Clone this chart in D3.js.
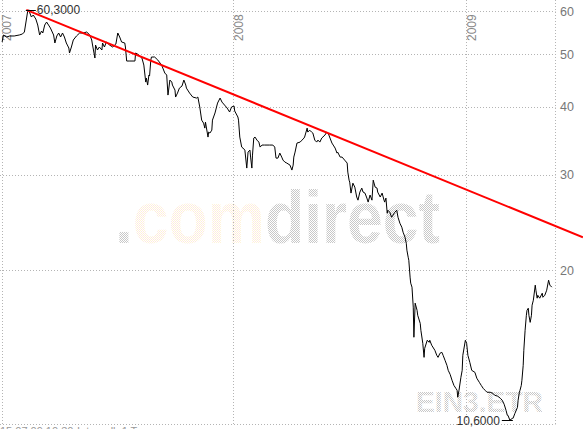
<!DOCTYPE html>
<html><head><meta charset="utf-8">
<script src="https://cdn.jsdelivr.net/npm/d3@7"></script>
<style>html,body{margin:0;padding:0;background:#fff;overflow:hidden}svg{display:block}</style>
</head><body><svg id="c" width="583" height="429"></svg>
<script>
const dates=["2007-01-02","2007-01-04","2007-01-09","2007-01-14","2007-01-21","2007-01-29","2007-02-03","2007-02-06","2007-02-09","2007-02-11",
"2007-02-13","2007-02-14","2007-02-17","2007-02-20","2007-02-24","2007-02-27","2007-03-02","2007-03-05","2007-03-07","2007-03-10",
"2007-03-13","2007-03-16","2007-03-19","2007-03-24","2007-03-26","2007-03-29","2007-04-01","2007-04-04","2007-04-07","2007-04-10",
"2007-04-13","2007-04-17","2007-04-18","2007-04-21","2007-04-24","2007-04-29","2007-05-04","2007-05-10","2007-05-15","2007-05-20",
"2007-05-23","2007-05-24","2007-05-28","2007-05-29","2007-06-01","2007-06-04","2007-06-08","2007-06-09","2007-06-12","2007-06-15",
"2007-06-20","2007-06-25","2007-06-30","2007-07-03","2007-07-06","2007-07-09","2007-07-14","2007-07-15","2007-07-17","2007-07-22",
"2007-07-30","2007-07-31","2007-08-03","2007-08-10","2007-08-13","2007-08-16","2007-08-17","2007-08-19","2007-08-21","2007-08-22",
"2007-08-24","2007-08-25","2007-08-30","2007-09-04","2007-09-10","2007-09-15","2007-09-18","2007-09-20","2007-09-21","2007-09-23",
"2007-09-26","2007-09-27","2007-10-01","2007-10-02","2007-10-05","2007-10-08","2007-10-12","2007-10-15","2007-10-18","2007-10-19",
"2007-10-24","2007-10-29","2007-11-04","2007-11-06","2007-11-09","2007-11-12","2007-11-15","2007-11-17","2007-11-18","2007-11-22",
"2007-11-23","2007-11-25","2007-11-28","2007-11-29","2007-12-03","2007-12-07","2007-12-11","2007-12-14","2007-12-18","2007-12-22",
"2007-12-26","2007-12-29","2008-01-02","2008-01-03","2008-01-08","2008-01-09","2008-01-11","2008-01-14","2008-01-16","2008-01-19",
"2008-01-22","2008-01-24","2008-01-27","2008-01-28","2008-01-30","2008-01-31","2008-02-02","2008-02-04","2008-02-07","2008-02-10",
"2008-02-12","2008-02-15","2008-02-19","2008-02-27","2008-03-03","2008-03-06","2008-03-08","2008-03-11","2008-03-14","2008-03-17",
"2008-03-19","2008-03-22","2008-03-25","2008-03-30","2008-04-02","2008-04-04","2008-04-05","2008-04-07","2008-04-10","2008-04-15",
"2008-04-18","2008-04-21","2008-04-22","2008-04-26","2008-04-27","2008-04-30","2008-05-03","2008-05-05","2008-05-08","2008-05-11",
"2008-05-13","2008-05-16","2008-05-19","2008-05-24","2008-05-27","2008-05-29","2008-06-01","2008-06-04","2008-06-06","2008-06-09",
"2008-06-12","2008-06-13","2008-06-17","2008-06-20","2008-06-24","2008-06-28","2008-06-29","2008-07-01","2008-07-02","2008-07-04",
"2008-07-07","2008-07-10","2008-07-13","2008-07-15","2008-07-18","2008-07-21","2008-07-23","2008-07-26","2008-07-29","2008-07-31",
"2008-08-03","2008-08-06","2008-08-08","2008-08-11","2008-08-14","2008-08-15","2008-08-19","2008-08-22","2008-08-25","2008-08-26",
"2008-08-28","2008-08-30","2008-08-31","2008-09-03","2008-09-06","2008-09-08","2008-09-11","2008-09-14","2008-09-16","2008-09-19",
"2008-09-22","2008-09-24","2008-09-27","2008-09-29","2008-09-30","2008-10-02","2008-10-03","2008-10-05","2008-10-06","2008-10-08",
"2008-10-10","2008-10-11","2008-10-13","2008-10-16","2008-10-17","2008-10-21","2008-10-22","2008-10-25","2008-10-27","2008-10-28",
"2008-11-01","2008-11-04","2008-11-05","2008-11-08","2008-11-13","2008-11-16","2008-11-18","2008-11-21","2008-11-24","2008-11-26",
"2008-11-29","2008-12-02","2008-12-04","2008-12-07","2008-12-10","2008-12-13","2008-12-16","2008-12-18","2008-12-19","2008-12-21",
"2008-12-24","2008-12-26","2008-12-27","2008-12-31","2009-01-02","2009-01-04","2009-01-07","2009-01-10","2009-01-15","2009-01-18",
"2009-01-22","2009-01-25","2009-01-28","2009-01-31","2009-02-03","2009-02-08","2009-02-12","2009-02-15","2009-02-20","2009-02-24",
"2009-02-27","2009-03-02","2009-03-05","2009-03-07","2009-03-08","2009-03-11","2009-03-15","2009-03-16","2009-03-19","2009-03-23",
"2009-03-24","2009-03-26","2009-03-27","2009-03-29","2009-03-30","2009-04-01","2009-04-02","2009-04-04","2009-04-06","2009-04-07",
"2009-04-09","2009-04-10","2009-04-12","2009-04-14","2009-04-15","2009-04-17","2009-04-20","2009-04-21","2009-04-23","2009-04-24",
"2009-04-27","2009-05-01","2009-05-02","2009-05-05","2009-05-08","2009-05-11","2009-05-13","2009-05-16"];
const closes=[52.61,54.20,53.74,53.97,53.97,54.20,54.43,54.89,57.75,59.75,
60.30,59.75,58.49,58.99,57.99,56.54,54.20,55.12,54.66,56.54,
57.26,56.54,55.82,54.20,52.39,53.97,54.66,53.74,54.66,53.74,
52.39,51.29,50.22,51.51,53.06,53.97,54.66,54.66,54.89,54.20,
53.06,52.17,49.16,51.95,50.86,51.51,50.86,52.39,51.51,52.61,
51.95,51.51,52.17,54.66,53.74,52.61,52.39,51.51,48.54,48.54,
48.54,50.22,50.00,49.16,47.72,44.40,45.16,43.84,45.74,45.55,
48.74,49.37,49.37,48.74,47.72,46.13,45.74,42.02,42.92,44.78,
44.40,43.84,42.92,41.67,42.38,43.28,43.65,44.78,43.84,43.28,
42.38,41.67,41.49,41.67,39.95,37.79,37.31,36.53,37.47,35.17,
35.92,35.77,36.22,37.79,38.95,40.62,41.49,40.79,40.28,39.78,
39.11,39.95,40.11,39.28,38.29,37.79,35.17,33.71,33.57,33.28,
30.84,33.00,33.28,32.31,30.84,32.58,35.02,35.17,34.72,34.43,
33.71,34.00,34.00,34.00,34.00,33.71,32.17,32.17,32.86,32.31,
31.90,31.63,31.50,31.23,30.58,31.23,32.31,33.00,34.29,34.43,
34.72,35.02,35.17,36.53,35.92,36.22,35.92,35.77,34.72,34.43,
34.72,34.43,35.02,35.47,35.92,35.77,35.02,34.29,34.00,33.57,
32.86,33.00,32.31,32.31,31.90,31.50,30.32,29.30,29.06,27.74,
28.93,28.45,27.28,26.92,27.86,28.33,27.86,27.74,27.16,26.70,
27.51,26.92,29.30,28.45,28.33,27.86,27.28,27.74,26.92,26.70,
27.16,25.47,25.80,25.58,25.04,25.26,25.58,25.80,25.04,24.41,
24.00,23.50,23.01,22.43,21.78,21.14,20.87,19.43,18.94,18.62,
17.11,15.06,17.40,16.88,16.53,15.97,15.51,14.68,13.83,14.37,
14.87,14.74,14.87,14.56,14.25,13.95,13.83,14.07,14.13,13.95,
13.66,13.37,13.09,12.87,12.55,12.28,12.13,12.03,11.68,12.03,
12.71,13.09,13.95,14.87,14.68,13.95,13.54,13.09,12.98,12.66,
12.44,12.28,12.13,12.03,11.93,11.93,11.88,11.78,11.73,11.63,
11.53,11.34,11.05,10.82,10.82,10.60,10.68,10.68,10.91,11.19,
11.53,11.93,12.03,12.28,12.55,13.37,14.25,15.51,16.53,16.88,
17.03,16.53,16.04,16.53,17.25,17.62,18.78,18.38,17.77,17.99,
17.77,18.15,17.84,17.99,18.38,19.18,18.78,18.62];
const yTicks=[20,30,40,50,60];
const yearLabels=["2007","2008","2009"];
const trendDates=["2007-02-09","2009-07-04"];
const trendValues=[60.3,23.0];
const maxLabel="60,3000";
const minLabel="10,6000";
const symbolText="EIN3.ETR";
const brandParts=[".","com","direct"];
const footerTexts=["15.07.09 10:30","Intervall: 1 Tag"];

const svg=d3.select("#c");
const parse=d3.utcParse("%Y-%m-%d");
const x=d3.scaleUtc().domain([parse("2007-01-01"),parse("2009-01-01")]).range([1.5,466]);
const y=d3.scaleLog().domain([10.45,60]).range([423.5,11]);
const right=555.5,bottom=424.5;
const crisp=v=>Math.round(v)+0.5;

// patterns for dotted watermark
const defs=svg.append("defs");
function pat(id,c1,c2){
  const p=defs.append("pattern").attr("id",id).attr("width",2).attr("height",2).attr("patternUnits","userSpaceOnUse");
  p.append("rect").attr("x",0).attr("y",0).attr("width",1).attr("height",1).attr("fill",c1);
  p.append("rect").attr("x",1).attr("y",1).attr("width",1).attr("height",1).attr("fill",c2);
}
pat("pg","#c8c8c8","#c8c8c8");
pat("py","#fff4d8","#fde8e2");

// watermark
const wm=svg.append("text").attr("x",115).attr("y",243)
  .attr("font-family","'Liberation Sans',Arial,sans-serif").attr("font-weight","bold")
  .attr("font-size",75).attr("textLength",325).attr("lengthAdjust","spacingAndGlyphs");
wm.append("tspan").attr("fill","url(#pg)").text(brandParts[0]);
wm.append("tspan").attr("fill","url(#py)").text(brandParts[1]);
wm.append("tspan").attr("fill","url(#pg)").text(brandParts[2]);

svg.append("text").attr("x",416).attr("y",412)
  .attr("font-family","'Liberation Sans',Arial,sans-serif").attr("font-weight","bold")
  .attr("font-size",30).attr("textLength",127).attr("lengthAdjust","spacingAndGlyphs")
  .attr("fill","url(#pg)").text(symbolText);

// grid
const grid=svg.append("g").attr("stroke","#b4b4b4").attr("stroke-width",1)
  .attr("stroke-dasharray","1,2").attr("fill","none");
yTicks.forEach(t=>{
  grid.append("line").attr("x1",0).attr("x2",right).attr("y1",crisp(y(t))).attr("y2",crisp(y(t)));
});
grid.append("line").attr("x1",0).attr("x2",right).attr("y1",bottom).attr("y2",bottom);
const yearDates=yearLabels.map(s=>parse(s+"-01-01"));
yearDates.forEach(d=>{
  grid.append("line").attr("x1",crisp(x(d))).attr("x2",crisp(x(d))).attr("y1",0).attr("y2",bottom);
});
grid.append("line").attr("x1",right).attr("x2",right).attr("y1",0).attr("y2",bottom);

// y labels
svg.append("g").selectAll("text").data(yTicks).join("text")
  .attr("x",560).attr("y",d=>y(d)+4.5)
  .attr("font-family","'Liberation Sans',Arial,sans-serif").attr("font-size",12.5)
  .attr("fill","#777").text(d=>d);

// year labels
svg.append("g").selectAll("text").data(yearLabels).join("text")
  .attr("transform",(d,i)=>`translate(${x(yearDates[i])+9.5},41) rotate(-90)`)
  .attr("font-family","'Liberation Sans',Arial,sans-serif").attr("font-size",12)
  .attr("fill","#888").text(d=>d);

// price line
const data=dates.map((d,i)=>({date:parse(d),v:closes[i]}));
svg.append("path").datum(data)
  .attr("d",d3.line().x(d=>x(d.date)).y(d=>y(d.v)))
  .attr("fill","none").attr("stroke","#000").attr("stroke-width",1);

// trend line
const tdata=trendDates.map((d,i)=>({date:parse(d),v:trendValues[i]}));
svg.append("path").datum(tdata)
  .attr("d",d3.line().x(d=>x(d.date)).y(d=>y(d.v)))
  .attr("fill","none").attr("stroke","#ff0000").attr("stroke-width",2);

// max / min markers
const iMax=d3.maxIndex(closes), iMin=d3.minIndex(closes);
const mx=x(data[iMax].date), my=y(closes[iMax]);
svg.append("line").attr("x1",mx-3).attr("x2",mx+7).attr("y1",crisp(my)).attr("y2",crisp(my)).attr("stroke","#000");
svg.append("text").attr("x",mx+8).attr("y",my+4).attr("font-family","'Liberation Sans',Arial,sans-serif")
  .attr("font-size",12).attr("fill","#333").text(maxLabel);
const nx=x(data[iMin].date), ny=y(closes[iMin]);
svg.append("line").attr("x1",nx-8).attr("x2",nx+3).attr("y1",crisp(ny)).attr("y2",crisp(ny)).attr("stroke","#000");
svg.append("text").attr("x",nx-10).attr("y",ny+4.5).attr("text-anchor","end").attr("font-family","'Liberation Sans',Arial,sans-serif")
  .attr("font-size",12).attr("fill","#333").text(minLabel);

// footer (cut off at bottom)
svg.append("text").attr("x",0).attr("y",435).attr("font-family","'Liberation Sans',Arial,sans-serif")
  .attr("font-size",11).attr("fill","#999").text(footerTexts[0]);
svg.append("text").attr("x",77).attr("y",435).attr("font-family","'Liberation Sans',Arial,sans-serif")
  .attr("font-size",11).attr("fill","#999").text(footerTexts[1]);
</script></body></html>
